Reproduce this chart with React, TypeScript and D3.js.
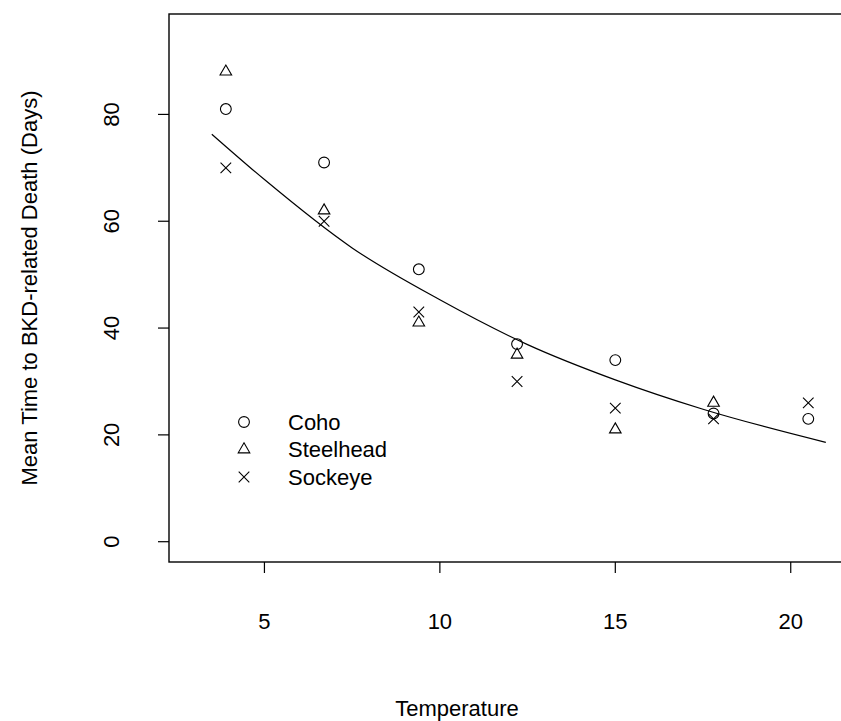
import { useEffect, useRef } from "react";
import * as d3 from "d3";

// Water temperatures (°C) used in the trials
const temps = [3.9, 6.7, 9.4, 12.2, 15.0, 17.8, 20.5];

const cohoDays = [81, 71, 51, 37, 34, 24, 23];
const steelheadDays = [88, 62, 41, 35, 21, 26, null];
const sockeyeDays = [70, 60, 43, 30, 25, 23, 26];

// fitted decay curve
const fitTemp = [3.5, 5, 7.5, 10, 12.5, 15, 17.5, 21];
const fitDays = [76.3, 67.8, 55.0, 45.3, 36.9, 30.3, 24.8, 18.6];

const xTicks = [5, 10, 15, 20];
const yTicks = [0, 20, 40, 60, 80];

const species = ["Coho", "Steelhead", "Sockeye"];
const speciesPch = ["circle", "triangle", "cross"];

const W = 841;
const H = 721;
const FONT = "'Liberation Sans', Arial, Helvetica, sans-serif";
const FS = 22;

function drawSymbol(g: any, kind: string, cx: number, cy: number) {
  if (kind === "circle") {
    g.append("circle")
      .attr("cx", cx)
      .attr("cy", cy)
      .attr("r", 5.4)
      .attr("fill", "none")
      .attr("stroke", "#000")
      .attr("stroke-width", 1.1);
  } else if (kind === "triangle") {
    // R pch 2 geometry
    const R = 4.3;
    const r = 1.555 * R;
    const xc = 1.3468 * R;
    const yc = 0.7776 * R;
    g.append("path")
      .attr("d", `M${cx},${cy - r}L${cx + xc},${cy + yc}L${cx - xc},${cy + yc}Z`)
      .attr("fill", "none")
      .attr("stroke", "#000")
      .attr("stroke-width", 1.1);
  } else {
    const s = 5.3;
    g.append("path")
      .attr("d", `M${cx - s},${cy - s}L${cx + s},${cy + s}M${cx - s},${cy + s}L${cx + s},${cy - s}`)
      .attr("fill", "none")
      .attr("stroke", "#000")
      .attr("stroke-width", 1.1);
  }
}

export default function App() {
  const svgRef = useRef<SVGSVGElement>(null);

  useEffect(() => {
    const svg = d3.select(svgRef.current);
    svg.selectAll("*").remove();

    const x = d3.scaleLinear().domain([2.28, 23]).range([169, 896]);
    const y = d3.scaleLinear().domain([-3.8, 98.8]).range([562, 14]);

    const [x0, x1] = x.range();
    const [y0, y1] = y.range();

    // box
    svg.append("rect")
      .attr("x", x0)
      .attr("y", y1)
      .attr("width", x1 - x0)
      .attr("height", y0 - y1)
      .attr("fill", "none")
      .attr("stroke", "#000")
      .attr("stroke-width", 1.4);

    // x axis ticks + labels
    const xa = svg.append("g");
    xTicks.forEach((t) => {
      xa.append("line")
        .attr("x1", x(t))
        .attr("x2", x(t))
        .attr("y1", y0)
        .attr("y2", y0 + 11)
        .attr("stroke", "#000")
        .attr("stroke-width", 1.2);
      xa.append("text")
        .attr("x", x(t))
        .attr("y", 628.5)
        .attr("text-anchor", "middle")
        .attr("font-family", FONT)
        .attr("font-size", FS)
        .attr("fill", "#000")
        .text(t);
    });

    // y axis ticks + labels
    const ya = svg.append("g");
    yTicks.forEach((t) => {
      ya.append("line")
        .attr("x1", x0)
        .attr("x2", x0 - 11)
        .attr("y1", y(t))
        .attr("y2", y(t))
        .attr("stroke", "#000")
        .attr("stroke-width", 1.2);
      ya.append("text")
        .attr("transform", `translate(119,${y(t)}) rotate(-90)`)
        .attr("text-anchor", "middle")
        .attr("font-family", FONT)
        .attr("font-size", FS)
        .attr("fill", "#000")
        .text(t);
    });

    // axis titles
    svg.append("text")
      .attr("x", 457)
      .attr("y", 716)
      .attr("text-anchor", "middle")
      .attr("font-family", FONT)
      .attr("font-size", FS)
      .attr("fill", "#000")
      .text("Temperature");
    svg.append("text")
      .attr("transform", `translate(36.5,${(y0 + y1) / 2}) rotate(-90)`)
      .attr("text-anchor", "middle")
      .attr("font-family", FONT)
      .attr("font-size", FS)
      .attr("fill", "#000")
      .text("Mean Time to BKD-related Death (Days)");

    // fitted curve
    const line = d3
      .line<number>()
      .x((_, i) => x(fitTemp[i]))
      .y((d) => y(d))
      .curve(d3.curveMonotoneX);
    svg.append("path")
      .attr("d", line(fitDays))
      .attr("fill", "none")
      .attr("stroke", "#000")
      .attr("stroke-width", 1.2);

    // points
    const pts = svg.append("g");
    [cohoDays, steelheadDays, sockeyeDays].forEach((series, si) => {
      series.forEach((v, i) => {
        if (v == null) return;
        drawSymbol(pts, speciesPch[si], x(temps[i]), y(v));
      });
    });

    // legend
    const lg = svg.append("g");
    species.forEach((name, i) => {
      const ly = 422 + i * 27.5;
      drawSymbol(lg, speciesPch[i], 244, ly);
      lg.append("text")
        .attr("x", 288)
        .attr("y", ly)
        .attr("dy", "0.35em")
        .attr("font-family", FONT)
        .attr("font-size", FS)
        .attr("fill", "#000")
        .text(name);
    });
  }, []);

  return (
    <svg
      ref={svgRef}
      width={W}
      height={H}
      style={{ position: "absolute", left: 0, top: 0, display: "block", background: "#fff" }}
    />
  );
}
